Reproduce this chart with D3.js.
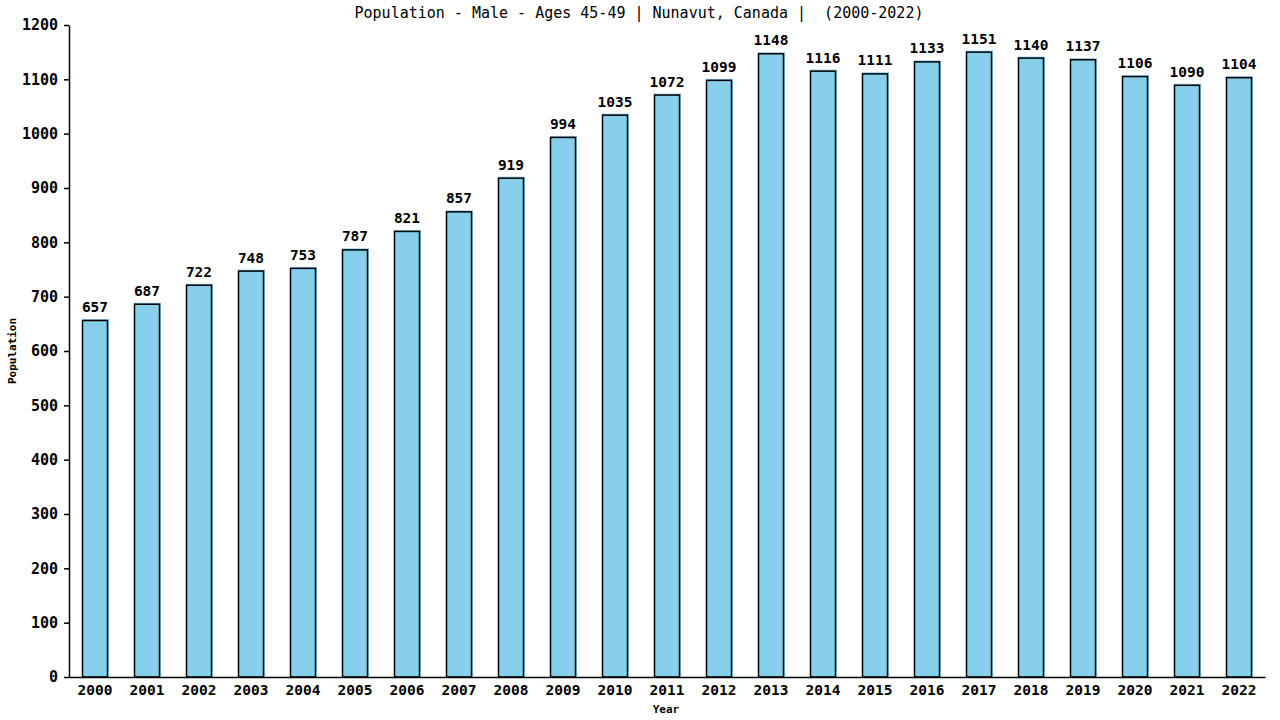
<!DOCTYPE html>
<html><head><meta charset="utf-8">
<script src="https://cdn.jsdelivr.net/npm/d3@7"></script>
<style>body{margin:0;background:#fff}svg{display:block}text{font-family:"DejaVu Sans Mono",monospace}</style>
</head><body>
<svg id="c" width="1280" height="720"></svg>
<script>
const years = ["2000","2001","2002","2003","2004","2005","2006","2007","2008","2009","2010","2011","2012","2013","2014","2015","2016","2017","2018","2019","2020","2021","2022"];
const values = [657,687,722,748,753,787,821,857,919,994,1035,1072,1099,1148,1116,1111,1133,1151,1140,1137,1106,1090,1104];
const yTicks = [0,100,200,300,400,500,600,700,800,900,1000,1100,1200];
const title = "Population - Male - Ages 45-49 | Nunavut, Canada |  (2000-2022)";

const W=1280,H=720,m={top:25,right:15,bottom:43,left:69};
const svg=d3.select("#c");
const x=d3.scaleBand().domain(years).range([m.left,W-m.right]).paddingInner(0.5).paddingOuter(0.25);
const y=d3.scaleLinear().domain([0,1200]).range([H-m.bottom,m.top]);

svg.append("text").attr("x",W/2-1).attr("y",18).attr("text-anchor","middle")
  .attr("font-size",15).text(title.replace(/ /g,"\u00a0"));

const g=svg.append("g");
g.selectAll("rect.f").data(values).join("rect").attr("class","f")
  .attr("x",(d,i)=>x(years[i])).attr("y",d=>y(d)-1)
  .attr("width",x.bandwidth()+1).attr("height",d=>y(0)-y(d)+1).attr("fill","#87CEEB");
g.selectAll("rect.s").data(values).join("rect").attr("class","s")
  .attr("x",(d,i)=>x(years[i])+0.5).attr("y",d=>y(d)+0.5)
  .attr("width",x.bandwidth()-1).attr("height",d=>y(0)-y(d)-0.5)
  .attr("fill","none").attr("stroke","#000").attr("stroke-width",1.5);
g.selectAll("text.v").data(values).join("text").attr("class","v")
  .attr("x",(d,i)=>x(years[i])+x.bandwidth()/2).attr("y",d=>y(d)-8)
  .attr("text-anchor","middle").attr("font-size",14.5).attr("font-weight","bold").text(d=>d);

const ya=svg.append("g").attr("transform",`translate(${m.left},0)`)
  .call(d3.axisLeft(y).tickValues(yTicks).tickSize(5).tickSizeOuter(0).tickFormat(d3.format("d")));
ya.select(".domain").attr("stroke","#000").attr("stroke-width",1.5);
ya.selectAll(".tick line").attr("stroke","#000").attr("stroke-width",1.5);
ya.selectAll("text").attr("font-size",15).attr("font-weight","bold").attr("fill","#000")
  .attr("font-family","DejaVu Sans Mono").attr("x",-11);

const xa=svg.append("g").attr("transform",`translate(0,${H-m.bottom})`)
  .call(d3.axisBottom(x).tickSize(0).tickSizeOuter(0));
xa.select(".domain").attr("stroke","#000").attr("stroke-width",1.5);
xa.selectAll("text").attr("font-size",14.5).attr("font-weight","bold").attr("fill","#000")
  .attr("font-family","DejaVu Sans Mono").attr("y",8);

svg.append("text").attr("x",666).attr("y",713).attr("text-anchor","middle")
  .attr("font-size",11).attr("font-weight","bold").text("Year");
svg.append("text").attr("transform","translate(16,351) rotate(-90)").attr("text-anchor","middle")
  .attr("font-size",11).attr("font-weight","bold").text("Population");
</script>
</body></html>
